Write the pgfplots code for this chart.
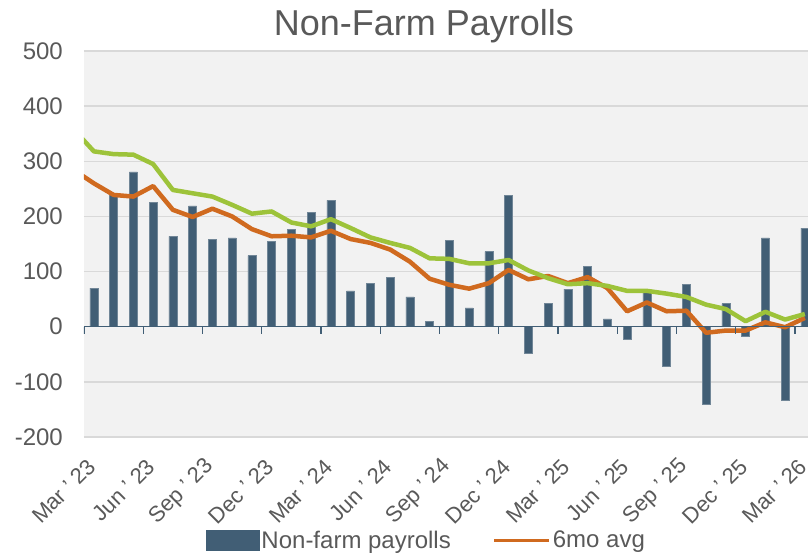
\documentclass[border=0pt]{standalone}
\usepackage{fontspec}
\setmainfont{Liberation Sans}
\usepackage{pgfplots}
\pgfplotsset{compat=1.18}
\definecolor{barcol}{RGB}{65,94,117}
\definecolor{orangecol}{RGB}{208,106,31}
\definecolor{greencol}{RGB}{157,195,58}
\definecolor{txtcol}{RGB}{89,89,89}
\definecolor{bgcol}{RGB}{242,242,242}
\definecolor{gridcol}{RGB}{217,217,217}
\begin{document}
\begin{tikzpicture}
\useasboundingbox (-84pt,-119pt) rectangle (724pt,437pt);
\begin{axis}[
  scale only axis, width=724pt, height=386pt,
  xmin=-0.5, xmax=36.16, ymin=-200, ymax=500,
  axis line style={draw=none},
  axis background/.style={fill=bgcol},
  ytick={-200,-100,0,100,200,300,400,500},
  yticklabels={-200,-100,0,100,200,300,400,500},
  ymajorgrids, grid style={gridcol, line width=1.5pt},
  major tick length=0pt,
  xtick={-0.5,2.5,5.5,8.5,11.5,14.5,17.5,20.5,23.5,26.5,29.5,32.5,35.5},
  xticklabels={Mar ' 23,Jun ' 23,Sep ' 23,Dec ' 23,Mar ' 24,Jun ' 24,Sep ' 24,Dec ' 24,Mar ' 25,Jun ' 25,Sep ' 25,Dec ' 25,Mar ' 26},
  yticklabel style={font=\fontsize{24}{28}\selectfont, text=txtcol, anchor=east, inner sep=0pt, xshift=-21pt},
  xticklabel style={font=\fontsize{22}{26}\selectfont, text=txtcol, inner sep=0pt, xshift=8pt, yshift=-26pt, rotate=45, anchor=east},
  title={Non-Farm Payrolls},
  title style={font=\fontsize{36}{40}\selectfont, text=txtcol, at={(0.4696,1)}, anchor=base, yshift=9pt},
  legend columns=2,
  legend style={at={(0.473,-0.267)}, anchor=center, draw=none, fill=none,
    font=\fontsize{24}{28}\selectfont, text=txtcol,
    nodes={inner sep=2pt},
    /tikz/every even column/.append style={column sep=40pt}},
]
\addplot[ybar, bar width=8pt, fill=barcol, draw=barcol!75!white, line width=0.5pt,
  legend image code/.code={\fill[barcol] (0pt,-10pt) rectangle (53pt,10pt);}]
coordinates {
(0,70) (1,240) (2,281) (3,226) (4,164) (5,219) (6,158) (7,161) (8,129) (9,155)
(10,176) (11,207) (12,229) (13,65) (14,79) (15,89) (16,54) (17,10) (18,156) (19,34)
(20,136) (21,238) (22,-49) (23,43) (24,68) (25,109) (26,14) (27,-22) (28,63) (29,-71)
(30,77) (31,-141) (32,42) (33,-17) (34,161) (35,-134) (36,179)
};
\addlegendentry{Non-farm payrolls}
\addplot[orangecol, line width=4.5pt, line join=round, no markers,
  legend image code/.code={\draw[orangecol, line width=3pt] (0pt,0pt) -- (55pt,0pt);}]
coordinates {
(-1,284) (0,260) (1,239) (2,236) (3,255) (4,212) (5,199) (6,214) (7,200) (8,177) (9,164)
(10,165) (11,162) (12,174) (13,159) (14,152) (15,140) (16,118) (17,87) (18,76) (19,69)
(20,79) (21,103) (22,86) (23,92) (24,79) (25,90) (26,70) (27,28) (28,44) (29,28)
(30,29) (31,-11) (32,-7) (33,-7) (34,8) (35,-1) (36,16)
};
\addlegendentry{6mo avg}
\addplot[greencol, line width=4.5pt, line join=round, no markers, forget plot]
coordinates {
(-1,357) (0,318) (1,313) (2,312) (3,295) (4,248) (5,242) (6,236) (7,221) (8,205) (9,209)
(10,189) (11,182) (12,195) (13,179) (14,162) (15,152) (16,143) (17,124) (18,123) (19,115)
(20,115) (21,121) (22,102) (23,88) (24,77) (25,79) (26,74) (27,65) (28,65) (29,60)
(30,54) (31,40) (32,32) (33,10) (34,27) (35,13) (36,23)
};
\draw[barcol, line width=1.5pt] (axis cs:-0.5,0) -- (axis cs:36.16,0);
\pgfplotsinvokeforeach{-0.5,2.5,5.5,8.5,11.5,14.5,17.5,20.5,23.5,26.5,29.5,32.5,35.5}{
  \draw[barcol, line width=1.2pt] (axis cs:#1,0) -- ([yshift=-7pt]axis cs:#1,0);
}
\end{axis}
\end{tikzpicture}
\end{document}
